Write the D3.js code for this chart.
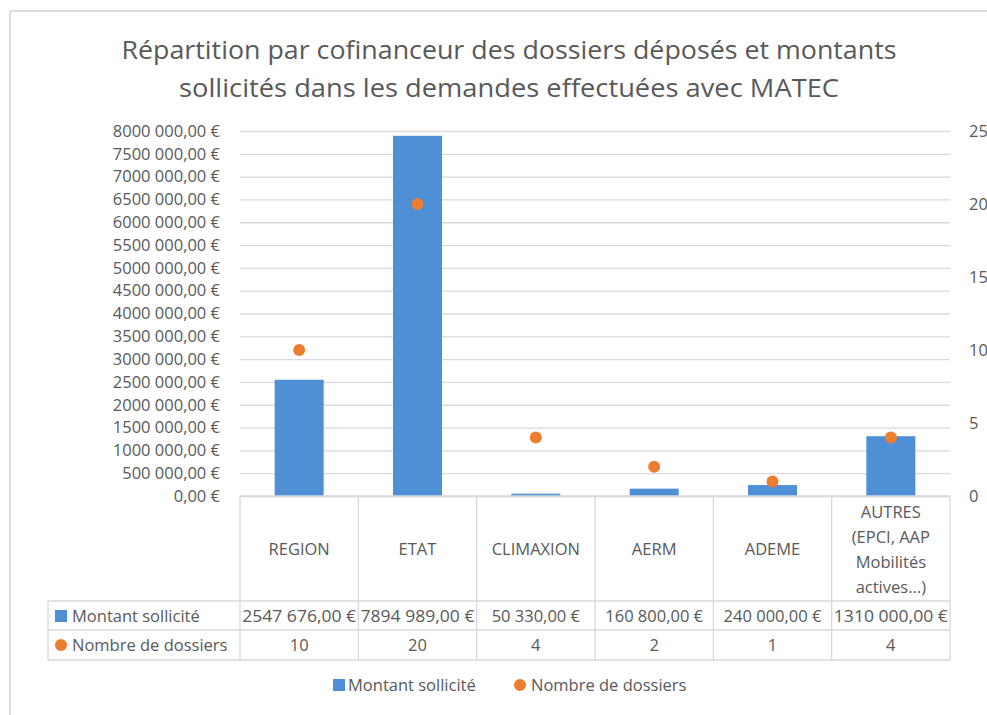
<!DOCTYPE html>
<html><head><meta charset="utf-8">
<script src="https://cdn.jsdelivr.net/npm/d3@7"></script>
<style>body{margin:0;background:#fff}svg{display:block}text{font-family:"Open Sans",sans-serif;fill:#595959}</style>
</head><body><svg id="c" width="987" height="715"></svg>
<script>
const categories = ["REGION","ETAT","CLIMAXION","AERM","ADEME","AUTRES\n(EPCI, AAP\nMobilités\nactives...)"];
const montant = [2547676, 7894989, 50330, 160800, 240000, 1310000];
const dossiers = [10, 20, 4, 2, 1, 4];
const leftTicks = d3.range(0, 8000001, 500000);
const rightTicks = [0, 5, 10, 15, 20, 25];
const seriesNames = ["Montant sollicité", "Nombre de dossiers"];
const titleLines = ["Répartition par cofinanceur des dossiers déposés et montants", "sollicités dans les demandes effectuées avec MATEC"];

const BLUE = "#4e8fd6", ORANGE = "#ED7D31", GRID = "#d9d9d9";
const FS = 16.5;
const svg = d3.select("#c");
const L = 240, R = 950, T = 131, B = 496;
const fmt = v => {
  const r = Math.round(v);
  if (r < 1000) return r + ",00 €";
  return Math.floor(r / 1000) + " " + String(r % 1000).padStart(3, "0") + ",00 €";
};

// frame
svg.append("line").attr("x1",10).attr("x2",987).attr("y1",11).attr("y2",11).attr("stroke","#dcdcdc").attr("stroke-width",2);
svg.append("line").attr("x1",10).attr("x2",10).attr("y1",11).attr("y2",715).attr("stroke","#dcdcdc").attr("stroke-width",2);

// title
const titleW = [775, 660];
titleLines.forEach((t, i) => {
  svg.append("text").attr("x", 509).attr("y", 59 + i * 38).attr("text-anchor", "middle")
    .attr("font-size", 26).attr("textLength", titleW[i]).attr("lengthAdjust", "spacingAndGlyphs").text(t);
});

const x = d3.scaleBand().domain(categories).range([L, R]).padding(0);
const y = d3.scaleLinear().domain([0, 8000000]).range([B, T]);
const y2 = d3.scaleLinear().domain([0, 25]).range([B, T]);

// gridlines
svg.append("g").attr("transform", `translate(${L},0)`)
  .call(d3.axisLeft(y).tickValues(leftTicks).tickSize(-(R - L)).tickFormat(""))
  .call(g => g.select(".domain").remove())
  .call(g => g.selectAll("line").attr("stroke", GRID).attr("stroke-width", 1.3));

// left axis labels
svg.append("g").attr("transform", `translate(${L},0)`)
  .call(d3.axisLeft(y).tickValues(leftTicks).tickSize(0).tickPadding(20).tickFormat(fmt))
  .call(g => g.select(".domain").remove())
  .call(g => g.selectAll("text").attr("font-size", FS).attr("font-family", "Open Sans").style("fill", "#595959"));

// right axis labels
svg.append("g").attr("transform", `translate(${R},0)`)
  .call(d3.axisRight(y2).tickValues(rightTicks).tickSize(0).tickPadding(19))
  .call(g => g.select(".domain").remove())
  .call(g => g.selectAll("text").attr("font-size", FS).attr("font-family", "Open Sans").style("fill", "#595959"));

// bars
const bw = 49;
svg.append("g").selectAll("rect").data(categories).join("rect")
  .attr("x", (d) => x(d) + x.bandwidth() / 2 - bw / 2)
  .attr("width", bw)
  .attr("y", (d, i) => y(montant[i]))
  .attr("height", (d, i) => B - y(montant[i]))
  .attr("fill", BLUE);

// dots
svg.append("g").selectAll("circle").data(categories).join("circle")
  .attr("cx", d => x(d) + x.bandwidth() / 2)
  .attr("cy", (d, i) => y2(dossiers[i]))
  .attr("r", 6).attr("fill", ORANGE);

// data table
const tl = svg.append("g").attr("stroke", GRID).attr("stroke-width", 1.3);
tl.append("line").attr("x1", L).attr("x2", R).attr("y1", B).attr("y2", B);
[601, 630, 660].forEach(yy => tl.append("line").attr("x1", 48).attr("x2", R).attr("y1", yy).attr("y2", yy));
categories.forEach(c => tl.append("line").attr("x1", x(c)).attr("x2", x(c)).attr("y1", B).attr("y2", 660));
tl.append("line").attr("x1", R).attr("x2", R).attr("y1", B).attr("y2", 660);
tl.append("line").attr("x1", 48).attr("x2", 48).attr("y1", 601).attr("y2", 660);

// header labels
categories.forEach(c => {
  const lines = c.split("\n");
  const cx = x(c) + x.bandwidth() / 2;
  const lh = 25;
  const y0 = 555 - (lines.length - 1) * lh / 2;
  lines.forEach((ln, k) => {
    svg.append("text").attr("x", cx).attr("y", y0 + k * lh).attr("text-anchor", "middle")
      .attr("font-size", FS).text(ln);
  });
});
// values rows
categories.forEach((c, i) => {
  const cx = x(c) + x.bandwidth() / 2;
  svg.append("text").attr("x", cx).attr("y", 622).attr("text-anchor", "middle").attr("font-size", FS)
    .attr("textLength", i === 2 || i === 3 || i === 4 ? null : 114).attr("lengthAdjust", "spacingAndGlyphs").text(fmt(montant[i]));
  svg.append("text").attr("x", cx).attr("y", 651).attr("text-anchor", "middle").attr("font-size", FS).text(dossiers[i]);
});
// row headers
svg.append("rect").attr("x", 55).attr("y", 610).attr("width", 12).attr("height", 12).attr("fill", BLUE);
svg.append("text").attr("x", 72).attr("y", 622).attr("font-size", FS).text(seriesNames[0]);
svg.append("circle").attr("cx", 61).attr("cy", 645).attr("r", 6).attr("fill", ORANGE);
svg.append("text").attr("x", 72).attr("y", 651).attr("font-size", FS).text(seriesNames[1]);

// legend
svg.append("rect").attr("x", 333).attr("y", 679).attr("width", 12).attr("height", 12).attr("fill", BLUE);
svg.append("text").attr("x", 348).attr("y", 691).attr("font-size", FS).text(seriesNames[0]);
svg.append("circle").attr("cx", 520).attr("cy", 685).attr("r", 6).attr("fill", ORANGE);
svg.append("text").attr("x", 531).attr("y", 691).attr("font-size", FS).text(seriesNames[1]);
</script></body></html>
